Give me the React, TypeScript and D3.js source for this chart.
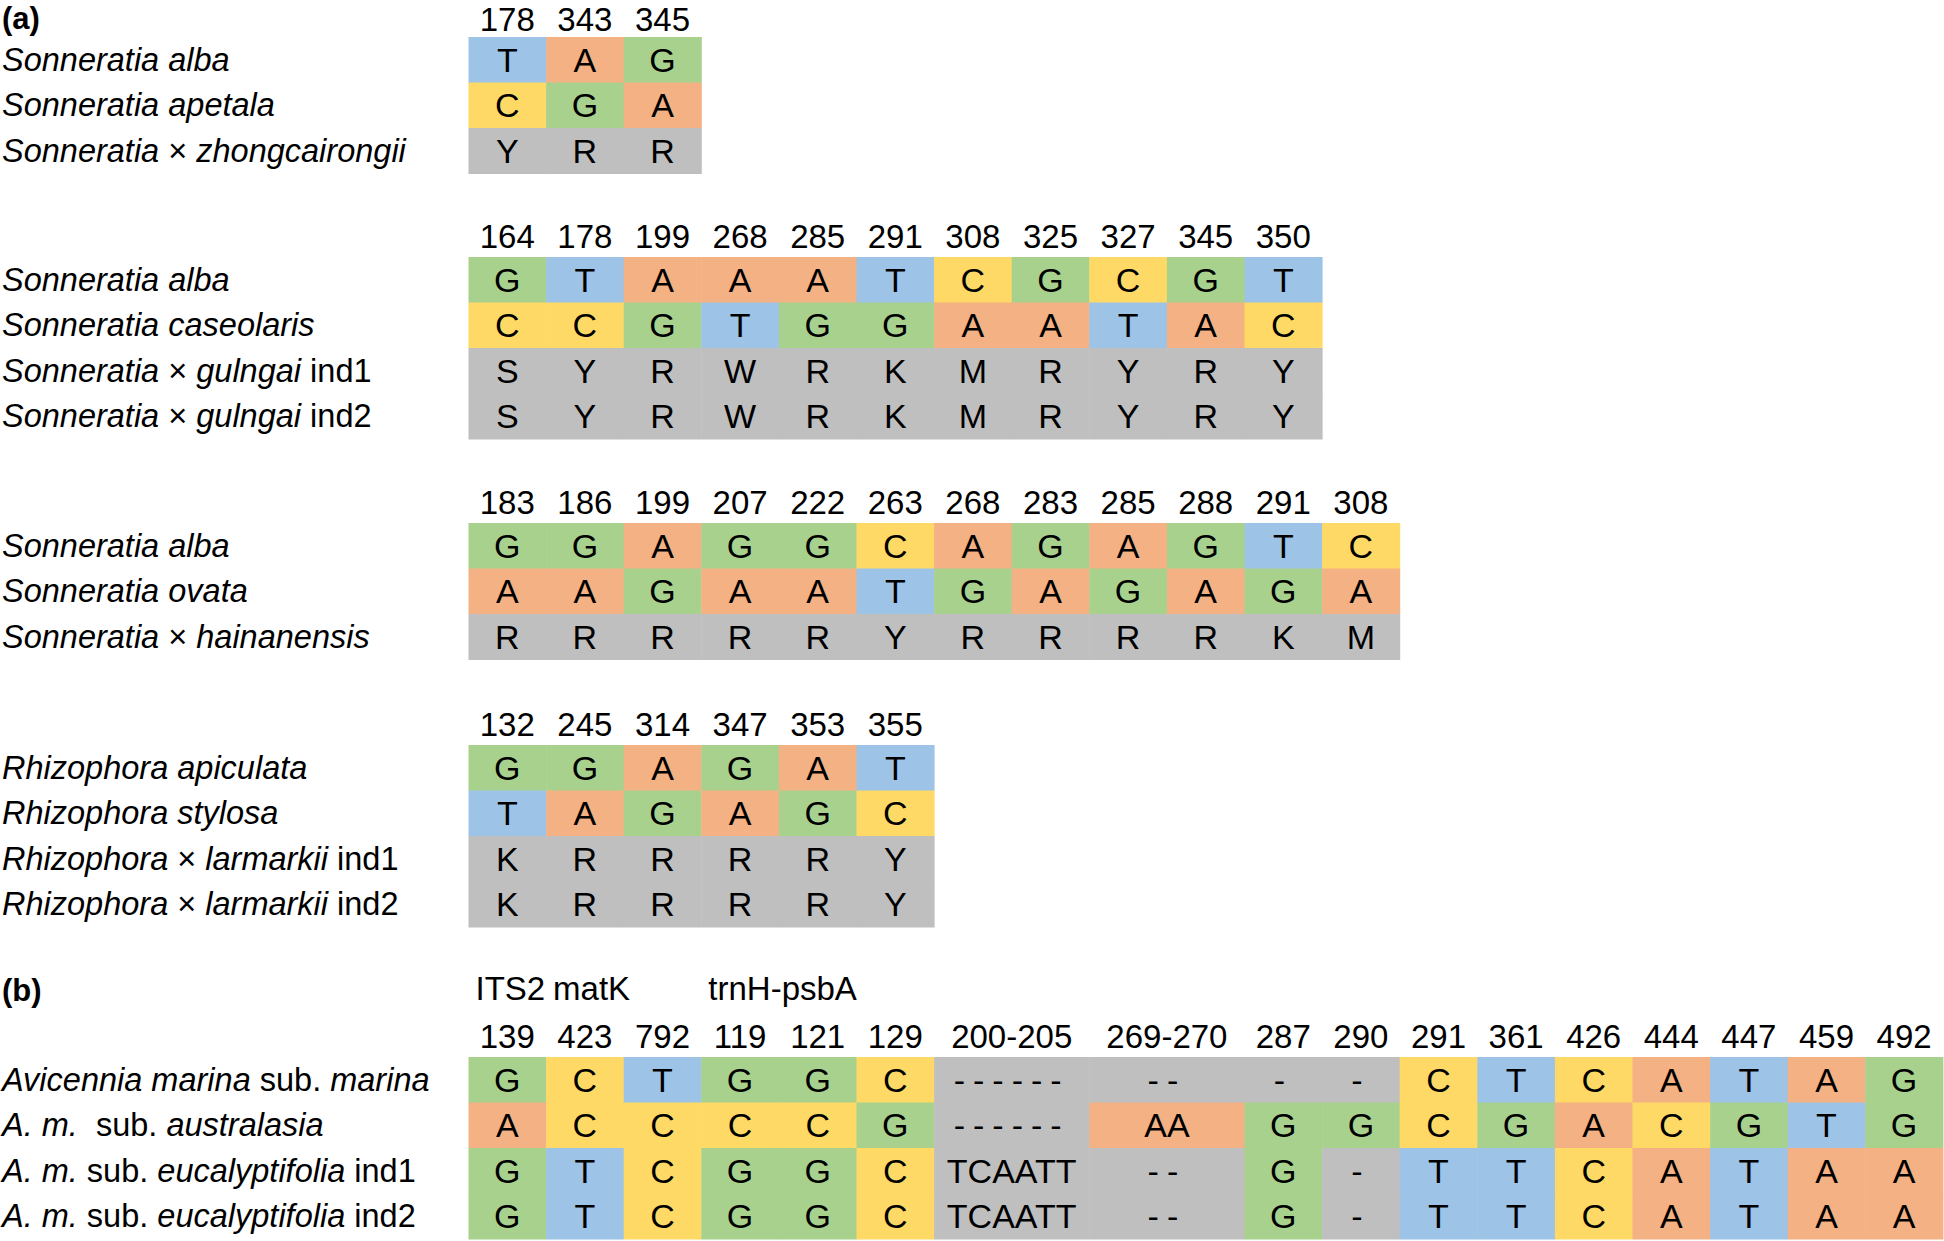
import React from "react";
import * as d3 from "d3";

type Seg = [string, boolean];

// ---------- data ----------
const p1Positions = ["178", "343", "345"];
const p1Labels: Seg[][] = [
  [["Sonneratia alba", true]],
  [["Sonneratia apetala", true]],
  [["Sonneratia", true], [" × ", false], ["zhongcairongii", true]],
];
const p1Rows = [
  ["T", "A", "G"],
  ["C", "G", "A"],
  ["Y", "R", "R"],
];

const p2Positions = ["164", "178", "199", "268", "285", "291", "308", "325", "327", "345", "350"];
const p2Labels: Seg[][] = [
  [["Sonneratia alba", true]],
  [["Sonneratia caseolaris", true]],
  [["Sonneratia", true], [" × ", false], ["gulngai", true], [" ind1", false]],
  [["Sonneratia", true], [" × ", false], ["gulngai", true], [" ind2", false]],
];
const p2Rows = [
  ["G", "T", "A", "A", "A", "T", "C", "G", "C", "G", "T"],
  ["C", "C", "G", "T", "G", "G", "A", "A", "T", "A", "C"],
  ["S", "Y", "R", "W", "R", "K", "M", "R", "Y", "R", "Y"],
  ["S", "Y", "R", "W", "R", "K", "M", "R", "Y", "R", "Y"],
];

const p3Positions = ["183", "186", "199", "207", "222", "263", "268", "283", "285", "288", "291", "308"];
const p3Labels: Seg[][] = [
  [["Sonneratia alba", true]],
  [["Sonneratia ovata", true]],
  [["Sonneratia", true], [" × ", false], ["hainanensis", true]],
];
const p3Rows = [
  ["G", "G", "A", "G", "G", "C", "A", "G", "A", "G", "T", "C"],
  ["A", "A", "G", "A", "A", "T", "G", "A", "G", "A", "G", "A"],
  ["R", "R", "R", "R", "R", "Y", "R", "R", "R", "R", "K", "M"],
];

const p4Positions = ["132", "245", "314", "347", "353", "355"];
const p4Labels: Seg[][] = [
  [["Rhizophora apiculata", true]],
  [["Rhizophora stylosa", true]],
  [["Rhizophora", true], [" × ", false], ["larmarkii", true], [" ind1", false]],
  [["Rhizophora", true], [" × ", false], ["larmarkii", true], [" ind2", false]],
];
const p4Rows = [
  ["G", "G", "A", "G", "A", "T"],
  ["T", "A", "G", "A", "G", "C"],
  ["K", "R", "R", "R", "R", "Y"],
  ["K", "R", "R", "R", "R", "Y"],
];

const pbPositions = ["139", "423", "792", "119", "121", "129", "200-205", "269-270", "287", "290", "291", "361", "426", "444", "447", "459", "492"];
const pbSpans = [1, 1, 1, 1, 1, 1, 2, 2, 1, 1, 1, 1, 1, 1, 1, 1, 1];
const pbGenes: [string, number][] = [["ITS2", 0], ["matK", 1], ["trnH-psbA", 3]];
const pbLabels: Seg[][] = [
  [["Avicennia marina", true], [" sub. ", false], ["marina", true]],
  [["A. m.", true], ["  sub. ", false], ["australasia", true]],
  [["A. m.", true], [" sub. ", false], ["eucalyptifolia", true], [" ind1", false]],
  [["A. m.", true], [" sub. ", false], ["eucalyptifolia", true], [" ind2", false]],
];
const pbRows = [
  ["G", "C", "T", "G", "G", "C", "------", "--", "-", "-", "C", "T", "C", "A", "T", "A", "G"],
  ["A", "C", "C", "C", "C", "G", "------", "AA", "G", "G", "C", "G", "A", "C", "G", "T", "G"],
  ["G", "T", "C", "G", "G", "C", "TCAATT", "--", "G", "-", "T", "T", "C", "A", "T", "A", "A"],
  ["G", "T", "C", "G", "G", "C", "TCAATT", "--", "G", "-", "T", "T", "C", "A", "T", "A", "A"],
];

// ---------- style ----------
const W = 1944;
const H = 1241;
const FONT = "'Liberation Sans', Arial, sans-serif";
const LEFT = 468.5;
const COLW = 77.6;
const ROWH = 45.5;

const baseColor = d3
  .scaleOrdinal<string, string>()
  .domain(["A", "T", "G", "C", "AA"])
  .range(["#F4B183", "#9DC3E6", "#A9D18E", "#FFD966", "#F4B183"])
  .unknown("#BFBFBF");

function Label({ segs, x, y, size }: { segs: Seg[]; x: number; y: number; size: number }) {
  return (
    <text x={x} y={y} fontSize={size} fontFamily={FONT} fill="#000" style={{ whiteSpace: "pre" }}>
      {segs.map((s, i) => (
        <tspan key={i} fontStyle={s[1] ? "italic" : "normal"}>
          {s[0]}
        </tspan>
      ))}
    </text>
  );
}

function Panel({
  top,
  positions,
  spans,
  labels,
  rows,
  headerGap = 9,
}: {
  top: number;
  positions: string[];
  spans?: number[];
  labels: Seg[][];
  rows: string[][];
  headerGap?: number;
}) {
  const sp = spans || positions.map(() => 1);
  const starts: number[] = [];
  let acc = 0;
  sp.forEach((s) => {
    starts.push(acc);
    acc += s;
  });
  const x = d3.scaleLinear().domain([0, acc]).range([LEFT, LEFT + acc * COLW]);
  const y = d3
    .scaleBand<number>()
    .domain(d3.range(rows.length))
    .range([top, top + rows.length * ROWH])
    .padding(0);
  return (
    <g>
      {positions.map((p, j) => (
        <text
          key={"h" + j}
          x={(x(starts[j]) + x(starts[j] + sp[j])) / 2}
          y={top - headerGap}
          textAnchor="middle"
          fontSize={33}
          fontFamily={FONT}
        >
          {p}
        </text>
      ))}
      {rows.map((r, i) => (
        <g key={"r" + i}>
          {r.map((v, j) => (
            <rect
              key={j}
              x={x(starts[j])}
              y={y(i)!}
              width={x(starts[j] + sp[j]) - x(starts[j]) + 0.5}
              height={y.bandwidth() + 0.5}
              fill={baseColor(v)}
            />
          ))}
        </g>
      ))}
      {rows.map((r, i) => (
        <g key={"t" + i}>
          {r.map((v, j) => (
            <text
              key={j}
              x={(x(starts[j]) + x(starts[j] + sp[j])) / 2}
              y={y(i)! + y.bandwidth() / 2 + 12}
              textAnchor="middle"
              fontSize={34}
              fontFamily={FONT}
              letterSpacing={/^-+$/.test(v) ? 8 : 0}
            >
              {v}
            </text>
          ))}
          <Label segs={labels[i]} x={2} y={y(i)! + y.bandwidth() / 2 + 11} size={32.5} />
        </g>
      ))}
    </g>
  );
}

export default function App() {
  const xb = d3.scaleLinear().domain([0, 1]).range([LEFT, LEFT + COLW]);
  return (
    <svg
      width={W}
      height={H}
      viewBox={`0 0 ${W} ${H}`}
      style={{ position: "absolute", left: 0, top: 0, background: "#fff" }}
    >
      <rect x={0} y={0} width={W} height={H} fill="#fff" />
      <text x={2} y={29} fontSize={31} fontWeight="bold" fontFamily={FONT}>
        (a)
      </text>
      <Panel top={37} headerGap={6} positions={p1Positions} labels={p1Labels} rows={p1Rows} />
      <Panel top={257} positions={p2Positions} labels={p2Labels} rows={p2Rows} />
      <Panel top={523} positions={p3Positions} labels={p3Labels} rows={p3Rows} />
      <Panel top={745} positions={p4Positions} labels={p4Labels} rows={p4Rows} />
      <text x={2} y={1001} fontSize={31} fontWeight="bold" fontFamily={FONT}>
        (b)
      </text>
      {pbGenes.map(([g, c]) => (
        <text key={g} x={xb(c) + 7} y={1000} fontSize={33} fontFamily={FONT}>
          {g}
        </text>
      ))}
      <Panel top={1057} positions={pbPositions} spans={pbSpans} labels={pbLabels} rows={pbRows} />
    </svg>
  );
}
